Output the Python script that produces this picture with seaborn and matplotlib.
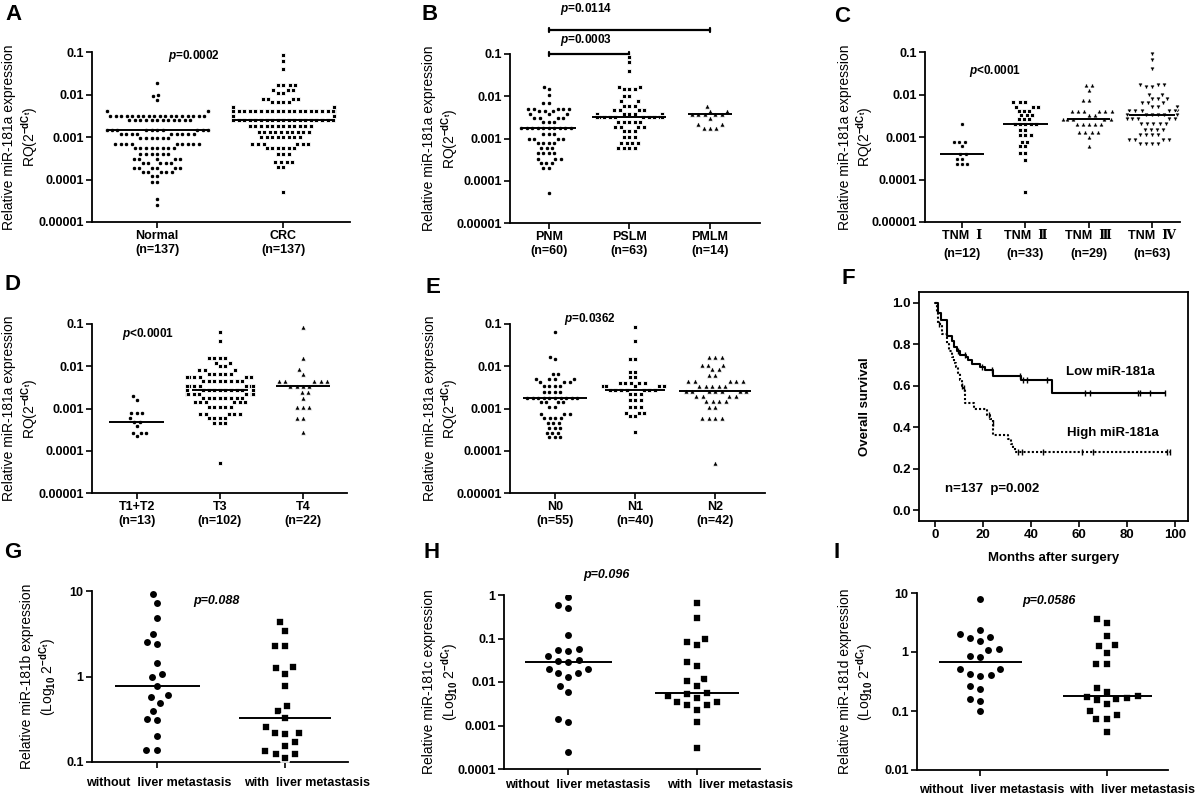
import numpy as np
import pandas as pd
import matplotlib
matplotlib.use('Agg')
import matplotlib.pyplot as plt
import matplotlib.transforms as mtransforms
import seaborn as sns
from matplotlib.ticker import NullLocator

# ---- panel A: values (value rows + how many dots per row)
normal_vals = [0.019, 0.01, 0.0092, 0.0075, 0.004, 0.0032, 0.0025, 0.0015, 0.0012, 0.00095, 0.0007,
               0.00055, 0.0004, 0.0003, 0.00024, 0.00019, 0.00015, 0.00012, 0.000088, 0.000035, 0.000025]
normal_cnt = [1, 1, 1, 1, 18, 18, 12, 20, 9, 6, 9, 8, 6, 5, 5, 6, 5, 2, 2, 1, 1]
crc_vals = [0.087, 0.06, 0.04, 0.017, 0.013, 0.011, 0.008, 0.0065, 0.005, 0.004, 0.0031, 0.0025,
            0.0018, 0.0013, 0.001, 0.0007, 0.00055, 0.0004, 0.00026, 0.0002, 0.00005]
crc_cnt = [1, 1, 1, 4, 3, 2, 4, 4, 6, 22, 18, 19, 12, 10, 8, 6, 6, 3, 4, 2, 1]

# ---- panel B
pnm_vals = [0.017, 0.015, 0.0105, 0.0069, 0.005, 0.0045, 0.0037, 0.003, 0.0024, 0.0018, 0.0013, 0.001,
            0.0008, 0.0006, 0.00046, 0.00033, 0.00026, 0.0002, 0.00005]
pnm_cnt = [1, 1, 1, 2, 5, 3, 3, 4, 3, 10, 3, 4, 4, 3, 4, 3, 3, 2, 1]
pslm_vals = [0.087, 0.063, 0.04, 0.017, 0.015, 0.01, 0.0076, 0.006, 0.0048, 0.0039, 0.0032,
             0.0025, 0.0019, 0.0015, 0.0011, 0.00077, 0.0006]
pslm_cnt = [1, 1, 1, 2, 3, 2, 2, 3, 4, 5, 16, 5, 4, 3, 3, 4, 4]
pmlm_vals = [0.006, 0.0045, 0.0037, 0.003, 0.0022, 0.0018]
pmlm_cnt = [1, 2, 5, 1, 2, 3]

# ---- panel C
tnm1_vals = [0.002, 0.00075, 0.0006, 0.0004, 0.00031, 0.00023]
tnm1_cnt = [1, 3, 1, 2, 2, 3]
tnm2_vals = [0.0065, 0.0052, 0.0042, 0.0033, 0.0026, 0.002, 0.0015, 0.0011, 0.00077, 0.0006, 0.00042,
             0.00028, 0.00005]
tnm2_cnt = [3, 3, 3, 3, 3, 5, 2, 3, 2, 2, 2, 1, 1]
tnm3_vals = [0.017, 0.013, 0.0075, 0.0041, 0.0033, 0.0026, 0.002, 0.0013, 0.001, 0.0006]
tnm3_cnt = [2, 1, 2, 6, 2, 5, 5, 4, 1, 1]
tnm4_vals = [0.09, 0.065, 0.04, 0.017, 0.015, 0.01, 0.0077, 0.0062, 0.005, 0.0041, 0.0033, 0.0026,
             0.002, 0.0015, 0.0011, 0.00085, 0.0007]
tnm4_cnt = [1, 1, 1, 3, 2, 2, 3, 3, 3, 6, 12, 5, 5, 4, 4, 4, 4]

# ---- panel D
t12_vals = [0.002, 0.0016, 0.0008, 0.0006, 0.00048, 0.00038, 0.00027, 0.00022]
t12_cnt = [1, 1, 3, 1, 2, 1, 3, 1]
t3_vals = [0.065, 0.04, 0.016, 0.012, 0.01, 0.008, 0.0065, 0.0055, 0.0044, 0.0035, 0.0028,
           0.0022, 0.0018, 0.0014, 0.0011, 0.00076, 0.0006, 0.00045, 0.00005]
t3_cnt = [1, 1, 4, 2, 2, 3, 5, 6, 8, 12, 16, 10, 8, 6, 5, 5, 4, 3, 1]
t4_vals = [0.087, 0.016, 0.0085, 0.0065, 0.0044, 0.0035, 0.0025, 0.0018, 0.0011, 0.0006, 0.00028]
t4_cnt = [1, 1, 1, 1, 5, 4, 2, 1, 3, 2, 1]

# ---- panel E
n0_vals = [0.065, 0.017, 0.015, 0.0065, 0.005, 0.0042, 0.0034, 0.0025, 0.0018, 0.0014, 0.0011, 0.00075,
           0.0006, 0.00046, 0.00035, 0.00027, 0.00021]
n0_cnt = [1, 1, 1, 2, 4, 3, 4, 4, 10, 4, 2, 3, 4, 3, 3, 3, 3]
n1_vals = [0.087, 0.04, 0.015, 0.0075, 0.0055, 0.0041, 0.0034, 0.0028, 0.0022, 0.0016, 0.0011, 0.0008,
           0.00065, 0.00028]
n1_cnt = [1, 1, 2, 2, 2, 5, 5, 7, 3, 3, 3, 3, 2, 1]
n2_vals = [0.017, 0.011, 0.0085, 0.0063, 0.0044, 0.0035, 0.0026, 0.002, 0.0015, 0.0011, 0.0006, 0.00005]
n2_cnt = [3, 3, 2, 2, 5, 5, 7, 4, 4, 2, 4, 1]

# ---- panel F: Kaplan-Meier steps (months, survival) and censor times
low_t = [0, 1.4, 2.4, 4.9, 6.9, 7.9, 9.0, 10.4, 12.9, 13.9, 15.3, 18.8, 20.8, 24.3, 35.8, 48.6, 95.8]
low_s = [1.0, 0.952, 0.919, 0.839, 0.815, 0.787, 0.766, 0.75, 0.74, 0.726, 0.706, 0.69, 0.677, 0.648,
         0.626, 0.565, 0.565]
low_cens = [9.7, 12.5, 19.4, 23.6, 35.4, 36.8, 38.2, 46.5, 62.5, 64.6, 84.7, 85.4, 89.6, 95.8]
high_t = [0, 0.7, 1.1, 2.8, 4.9, 6.0, 6.9, 7.9, 8.6, 9.7, 10.4, 11.1, 11.8, 12.4, 16.3, 21.6, 23.0,
          24.0, 24.3, 30.4, 31.5, 32.4, 33.3, 97.9]
high_s = [1.0, 0.952, 0.9, 0.85, 0.8, 0.77, 0.74, 0.71, 0.69, 0.66, 0.63, 0.6, 0.59, 0.515, 0.49,
          0.46, 0.44, 0.42, 0.364, 0.345, 0.32, 0.30, 0.28, 0.28]
high_cens = [1.5, 11.3, 12.0, 22.4, 24.0, 34.5, 36.1, 45.1, 61.1, 66.0, 96.5, 97.9]

# ---- panels G, H, I: individual samples
g_without = [9.3, 7.2, 4.8, 3.1, 2.5, 2.4, 1.45, 1.07, 0.98, 0.77, 0.6, 0.57, 0.49, 0.4, 0.32, 0.31,
             0.2, 0.14, 0.14]
g_with = [4.3, 3.4, 2.3, 2.25, 1.3, 1.25, 1.08, 0.78, 0.45, 0.4, 0.33, 0.26, 0.22, 0.22, 0.21, 0.17,
          0.155, 0.135, 0.125, 0.125, 0.11]
h_without = [0.92, 0.59, 0.5, 0.12, 0.057, 0.055, 0.052, 0.04, 0.032, 0.031, 0.029, 0.02, 0.02, 0.016,
             0.016, 0.013, 0.0083, 0.0059, 0.0014, 0.0012, 0.00025]
h_with = [0.67, 0.29, 0.1, 0.082, 0.071, 0.029, 0.023, 0.012, 0.0105, 0.0081, 0.0056, 0.0054, 0.0047,
          0.0044, 0.0035, 0.0035, 0.0029, 0.0029, 0.0023, 0.0012, 0.0003]
i_without = [7.9, 2.4, 2.0, 1.8, 1.7, 1.55, 1.12, 1.1, 0.86, 0.82, 0.52, 0.51, 0.43, 0.4, 0.39, 0.27,
             0.24, 0.16, 0.15, 0.1]
i_with = [3.6, 3.1, 1.85, 1.3, 1.25, 0.98, 0.63, 0.63, 0.25, 0.21, 0.18, 0.17, 0.165, 0.16, 0.155, 0.13,
          0.1, 0.085, 0.073, 0.073, 0.044]

liver_labels = ['without  liver metastasis', 'with  liver metastasis']
tnm_labels = ['TNM  \u2160\n(n=12)', 'TNM  \u2161\n(n=33)', 'TNM  \u2162\n(n=29)', 'TNM  \u2163\n(n=63)']

sns.set_style('ticks', {'axes.edgecolor': 'black', 'xtick.color': 'black', 'ytick.color': 'black',
                        'text.color': 'black', 'axes.labelcolor': 'black'})
plt.rcParams['font.family'] = ['Liberation Sans', 'DejaVu Sans']
plt.rcParams['font.weight'] = 'bold'
plt.rcParams['mathtext.fontset'] = 'custom'
plt.rcParams['mathtext.rm'] = 'Liberation Sans'
plt.rcParams['mathtext.bf'] = 'Liberation Sans:bold'
plt.rcParams['mathtext.it'] = 'Liberation Sans:italic:bold'

W, H = 1200, 797
fig = plt.figure(figsize=(12, 7.97), dpi=100)


def add_ax(l, r, t, b):
    return fig.add_axes([l / W, 1 - b / H, (r - l) / W, (b - t) / H])


def expand(vals, cnt):
    return np.repeat(vals, cnt)


def dot_panel(ax, groups, names, markers, size, edge, hw, xlim, ylim, yticks, yticklabels, ylabel, lab_x):
    for i, (vals, name, m) in enumerate(zip(groups, names, markers)):
        d = pd.DataFrame({'grp': name, 'val': vals})
        sz = size * 1.2 if m in ('^', 'v') else size
        sns.swarmplot(data=d, x='grp', y='val', order=names, marker=m, size=sz, color='black',
                      edgecolor='white', linewidth=edge, ax=ax, log_scale=True, warn_thresh=1)
        ax.hlines(np.median(vals), i - hw[i], i + hw[i], color='black', lw=1.4, zorder=3)
    ax.set_xlim(*xlim)
    ax.set_ylim(*ylim)
    ax.set_yticks(yticks)
    ax.set_yticklabels(yticklabels)
    ax.yaxis.set_minor_locator(NullLocator())
    ax.set_xlabel('')
    ax.set_ylabel(ylabel, fontsize=10, fontweight='normal', va='center', linespacing=1.15)
    ax.yaxis.set_label_coords(lab_x, 0.5)
    sns.despine(ax=ax)
    for s in ['left', 'bottom']:
        ax.spines[s].set_linewidth(1.3)
    ax.tick_params(axis='both', direction='out', length=4, width=1.2, labelsize=9, pad=2)


def ptext(ax, x, y, s, **kw):
    ax.text(x, y, s, ha='center', va='center', fontsize=8.5, fontweight='bold', clip_on=False, **kw)


def shift_xlabels(ax, shifts_px):
    for lab, dx in zip(ax.get_xticklabels(), shifts_px):
        lab.set_transform(lab.get_transform() + mtransforms.ScaledTranslation(dx / 100, 0, fig.dpi_scale_trans))


lab_a = 'Relative miR-181a expression\nRQ(2$^{\\mathrm{-dC_t}}$)'
dec5 = [1e-5, 1e-4, 1e-3, 1e-2, 1e-1]
dec5_lab = ['0.00001', '0.0001', '0.001', '0.01', '0.1']
dot_size, dot_edge = 3.2, 0.6

# A
axA = add_ax(92, 350, 52, 222)
dot_panel(axA, [expand(normal_vals, normal_cnt), expand(crc_vals, crc_cnt)],
          ['Normal\n(n=137)', 'CRC\n(n=137)'], ['o', 's'], dot_size, dot_edge, [0.4, 0.4],
          (-0.516, 1.53), (1e-5, 0.1), dec5, dec5_lab, lab_a, -0.275)
ptext(axA, 0.29, 0.079, '$\\mathit{p}$=0.0002')

# B
axB = add_ax(510, 760, 54, 223)
dot_panel(axB, [expand(pnm_vals, pnm_cnt), expand(pslm_vals, pslm_cnt), expand(pmlm_vals, pmlm_cnt)],
          ['PNM\n(n=60)', 'PSLM\n(n=63)', 'PMLM\n(n=14)'], ['o', 's', '^'], dot_size, dot_edge,
          [0.34, 0.46, 0.27], (-0.48, 2.62), (1e-5, 0.1), dec5, dec5_lab, lab_a, -0.276)
for (x0, x1, yb) in [(0, 1, 0.1), (0, 2, 0.37)]:
    axB.plot([x0, x1], [yb, yb], color='black', lw=1.6, clip_on=False)
    for xe in (x0, x1):
        axB.plot([xe, xe], [yb / 1.1, yb * 1.1], color='black', lw=1.6, clip_on=False)
ptext(axB, 0.46, 0.21, '$\\mathit{p}$=0.0003')
ptext(axB, 0.46, 1.19, '$\\mathit{p}$=0.0114')

# C
axC = add_ax(925, 1180, 52, 222)
dot_panel(axC, [expand(tnm1_vals, tnm1_cnt), expand(tnm2_vals, tnm2_cnt), expand(tnm3_vals, tnm3_cnt),
                expand(tnm4_vals, tnm4_cnt)],
          tnm_labels, ['o', 's', '^', 'v'], 3.0, dot_edge, [0.35, 0.36, 0.34, 0.36],
          (-0.585, 3.44), (1e-5, 0.1), dec5, dec5_lab, lab_a, -0.27)
for t in axC.get_xticklabels():
    t.set_family(['Liberation Sans', 'DejaVu Serif'])
    t.set_linespacing(1.6)
ptext(axC, 0.52, 0.035, '$\\mathit{p}$<0.0001')

# D
axD = add_ax(92, 347, 324, 493)
dot_panel(axD, [expand(t12_vals, t12_cnt), expand(t3_vals, t3_cnt), expand(t4_vals, t4_cnt)],
          ['T1+T2\n(n=13)', 'T3\n(n=102)', 'T4\n(n=22)'], ['o', 's', '^'], dot_size, dot_edge,
          [0.33, 0.34, 0.32], (-0.54, 2.53), (1e-5, 0.1), dec5, dec5_lab, lab_a, -0.278)
ptext(axD, 0.13, 0.058, '$\\mathit{p}$<0.0001')

# E
axE = add_ax(510, 765, 324, 493)
dot_panel(axE, [expand(n0_vals, n0_cnt), expand(n1_vals, n1_cnt), expand(n2_vals, n2_cnt)],
          ['N0\n(n=55)', 'N1\n(n=40)', 'N2\n(n=42)'], ['o', 's', '^'], dot_size, dot_edge,
          [0.4, 0.375, 0.45], (-0.56, 2.62), (1e-5, 0.1), dec5, dec5_lab, lab_a, -0.27)
ptext(axE, 0.44, 0.129, '$\\mathit{p}$=0.0362')

# F - survival
axF = add_ax(919, 1188, 292, 521)
sns.lineplot(x=low_t, y=low_s, drawstyle='steps-post', color='black', lw=1.5, estimator=None, ax=axF)
sns.lineplot(x=high_t, y=high_s, drawstyle='steps-post', color='black', lw=1.5, estimator=None,
             linestyle=(0, (1, 1)), ax=axF)
low_cy = np.array(low_s)[np.searchsorted(low_t, low_cens, side='right') - 1]
high_cy = np.array(high_s)[np.searchsorted(high_t, high_cens, side='right') - 1]
sns.scatterplot(x=low_cens, y=low_cy, marker='|', s=25, color='black', linewidth=1, ax=axF)
sns.scatterplot(x=high_cens, y=high_cy, marker='|', s=25, color='black', linewidth=1, ax=axF)
axF.set_xlim(-6.7, 105.4)
axF.set_ylim(-0.053, 1.053)
axF.set_xticks([0, 20, 40, 60, 80, 100])
axF.set_yticks([0.0, 0.2, 0.4, 0.6, 0.8, 1.0])
axF.set_yticklabels(['0.0', '0.2', '0.4', '0.6', '0.8', '1.0'])
for s in axF.spines.values():
    s.set_linewidth(1.3)
axF.tick_params(axis='both', direction='out', length=4, width=1.2, labelsize=9.5, pad=2)
axF.set_ylabel('Overall survival', fontsize=9.5, fontweight='bold', va='center')
axF.yaxis.set_label_coords(-0.2, 0.5)
axF.set_xlabel('Months after surgery', fontsize=9.5, fontweight='bold', va='center')
axF.xaxis.set_label_coords(0.5, -0.16)
axF.text(73, 0.668, 'Low miR-181a', ha='center', va='center', fontsize=9.5, fontweight='bold')
axF.text(74, 0.37, 'High miR-181a', ha='center', va='center', fontsize=9.5, fontweight='bold')
axF.text(23.6, 0.10, 'n=137  p=0.002', ha='center', va='center', fontsize=9.5, fontweight='bold')

# G, H, I
lab_g = 'Relative miR-181b expression\n(Log$_{\\mathrm{10}}$ 2$^{\\mathrm{-dC_t}}$)'
lab_h = 'Relative miR-181c expression\n(Log$_{\\mathrm{10}}$ 2$^{\\mathrm{-dC_t}}$)'
lab_i = 'Relative miR-181d expression\n(Log$_{\\mathrm{10}}$ 2$^{\\mathrm{-dC_t}}$)'

axG = add_ax(92, 348, 591, 762)
dot_panel(axG, [g_without, g_with], liver_labels, ['o', 's'], 6.2, 1.2, [0.33, 0.36],
          (-0.51, 1.49), (0.1, 10), [0.1, 1, 10], ['0.1', '1', '10'], lab_g, -0.207)
axG.tick_params(axis='x', pad=6.5)
shift_xlabels(axG, [1, 22])
axG.text(0.46, 7.6, 'p=0.088', ha='center', va='center', fontsize=9, fontweight='bold', style='italic')

axH = add_ax(504, 760, 595, 769)
dot_panel(axH, [h_without, h_with], liver_labels, ['o', 's'], 6.2, 1.2, [0.34, 0.33],
          (-0.5, 1.49), (1e-4, 1), [1e-4, 1e-3, 1e-2, 0.1, 1], ['0.0001', '0.001', '0.01', '0.1', '1'],
          lab_h, -0.246)
axH.tick_params(axis='x', pad=3)
shift_xlabels(axH, [9, 33])
axH.text(0.30, 2.87, 'p=0.096', ha='center', va='center', fontsize=9, fontweight='bold', style='italic',
         clip_on=False)

axI = add_ax(917, 1168, 593, 770)
dot_panel(axI, [i_without, i_with], liver_labels, ['o', 's'], 6.2, 1.2, [0.33, 0.35],
          (-0.5, 1.48), (0.01, 10), [0.01, 0.1, 1, 10], ['0.01', '0.1', '1', '10'], lab_i, -0.24)
axI.tick_params(axis='x', pad=6)
shift_xlabels(axI, [11, 25])
axI.text(0.54, 7.2, 'p=0.0586', ha='center', va='center', fontsize=9, fontweight='bold', style='italic')

# panel letters
for letter, x, y in [('A', 13, 15), ('B', 430, 15), ('C', 842, 17), ('D', 13, 285), ('E', 433, 287),
                     ('F', 848, 278), ('G', 13, 553), ('H', 432, 553), ('I', 837, 553)]:
    fig.text(x / W, 1 - y / H, letter, ha='center', va='center', fontsize=16, fontweight='bold')

fig.savefig('out.png', dpi=100)
